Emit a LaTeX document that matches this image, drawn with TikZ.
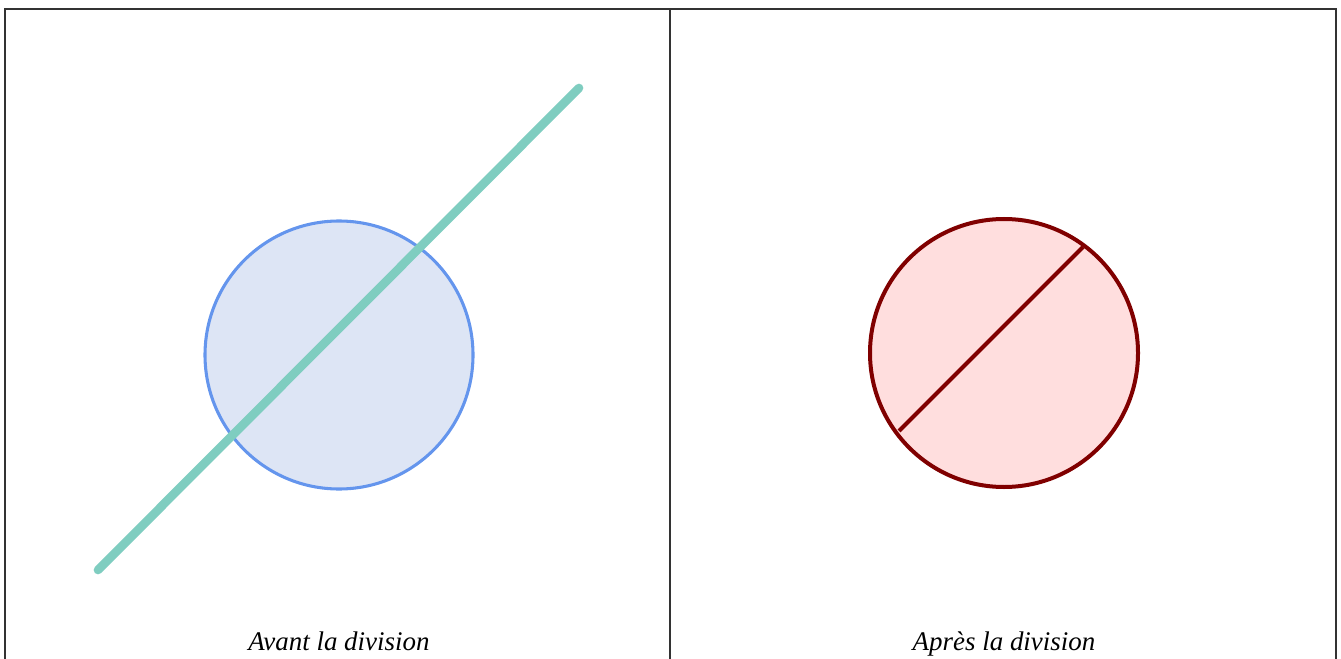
\documentclass[tikz,border=0pt]{standalone}
\usepackage{fontspec}
\setmainfont{Liberation Serif}
\definecolor{frame}{HTML}{333333}
\definecolor{teal}{HTML}{7FCDC0}
\definecolor{cblue}{HTML}{6495ED}
\definecolor{lblue}{HTML}{DDE5F5}
\definecolor{dred}{HTML}{800000}
\definecolor{lpink}{HTML}{FFDEDE}
\begin{document}
\begin{tikzpicture}[x=0.75pt,y=-0.75pt,
  framestyle/.style={draw=frame,line width=1.1pt},
  labelstyle/.style={font=\fontsize{20.2}{22}\selectfont\itshape,anchor=base,inner sep=0pt}]
\useasboundingbox (0,0) rectangle (1341,659);
% frame
\draw[framestyle] (5,700) -- (5,9) -- (1336,9) -- (1336,700);
\draw[framestyle] (670,9) -- (670,700);
% left panel
\draw[cblue,fill=lblue,line width=2.3pt] (339,355) circle (134);
\coordinate (la) at (98,570);
\coordinate (lb) at (579,88);
\draw[teal,line width=6.5pt,line cap=round] (la) -- (lb);
\node[labelstyle] (t1) at (339,650) {Avant la division};
% right panel
\draw[dred,fill=lpink,line width=3pt] (1004,353) circle (134);
\coordinate (ra) at (899,431);
\coordinate (rb) at (1083,247);
\draw[dred,line width=3pt] (ra) -- (rb);
\node[labelstyle] (t2) at (1004,650) {Après la division};
\end{tikzpicture}
\end{document}
